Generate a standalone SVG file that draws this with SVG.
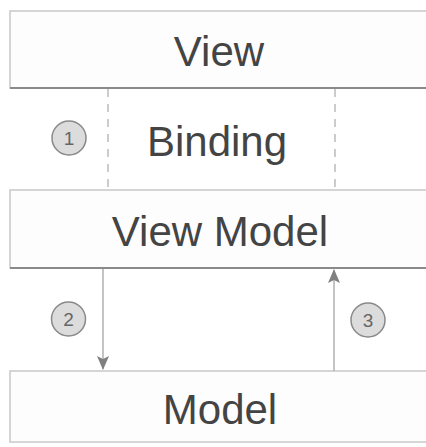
<svg xmlns="http://www.w3.org/2000/svg" width="426" height="447" viewBox="0 0 426 447">
<style>
.box{fill:#fdfdfd;stroke:#c8c8c8;stroke-width:1.5}
.shadow{stroke:#8a8a8a;stroke-width:2}
.lbl{font-family:"Liberation Sans",Arial,sans-serif;font-size:42px;fill:#444;text-anchor:middle}
.num{font-family:"Liberation Sans",Arial,sans-serif;font-size:19px;fill:#666;text-anchor:middle}
.circ{fill:#dcdcdc;stroke:#8a8a8a;stroke-width:1.5}
.dash{stroke:#aaa;stroke-width:1.2;stroke-dasharray:8,7;fill:none}
.arr{stroke:#b0b0b0;stroke-width:1.5;fill:none}
</style>
<defs>
<marker id="ah" viewBox="0 0 14 14" refX="13" refY="7" markerWidth="14" markerHeight="14" markerUnits="userSpaceOnUse" orient="auto">
<path d="M0,1 L14,7 L0,13 L3,7 Z" fill="#808080"/>
</marker>
</defs>
<rect width="426" height="447" fill="#fff"/>
<g id="view">
<rect class="box" x="10" y="11" width="430" height="77"/>
<line class="shadow" x1="10" y1="88" x2="426" y2="88"/>
<text class="lbl" x="219" y="66">View</text>
</g>
<g id="binding">
<text class="lbl" x="217" y="156">Binding</text>
</g>
<g id="viewmodel">
<rect class="box" x="10" y="190" width="430" height="78"/>
<line class="shadow" x1="10" y1="268" x2="426" y2="268"/>
<text class="lbl" x="220" y="246">View Model</text>
</g>
<g id="model">
<rect class="box" x="10" y="371" width="430" height="71"/>
<text class="lbl" x="220" y="424">Model</text>
</g>
<g id="connectors">
<line class="dash" x1="108" y1="89" x2="108" y2="190"/>
<line class="dash" x1="335" y1="89" x2="335" y2="190"/>
<line class="arr" x1="103" y1="269" x2="103" y2="369" marker-end="url(#ah)"/>
<line class="arr" x1="334" y1="371" x2="334" y2="270" marker-end="url(#ah)"/>
</g>
<g id="badge1">
<circle class="circ" cx="69" cy="138" r="17"/>
<text class="num" x="69" y="145">1</text>
</g>
<g id="badge2">
<circle class="circ" cx="68.5" cy="319" r="17"/>
<text class="num" x="68.5" y="326">2</text>
</g>
<g id="badge3">
<circle class="circ" cx="368" cy="320" r="17"/>
<text class="num" x="368" y="327">3</text>
</g>
</svg>
